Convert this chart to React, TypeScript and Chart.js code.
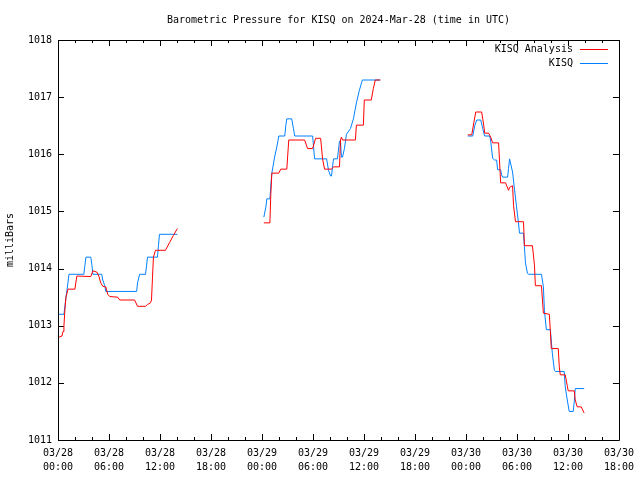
import React, { useEffect, useRef } from 'react';
import { Chart, registerables } from 'chart.js';

Chart.register(...registerables);

const TITLE = 'Barometric Pressure for KISQ on 2024-Mar-28 (time in UTC)';
const Y_LABEL = 'milliBars';
const SERIES_NAMES = ['KISQ Analysis', 'KISQ'];
const SERIES_COLORS = ['#ff0000', '#0080ff'];

// x tick labels (hours since 03/28 00:00 UTC, every 6 h)
const X_TICK_DATES = ['03/28', '03/28', '03/28', '03/28', '03/29', '03/29', '03/29', '03/29', '03/30', '03/30', '03/30', '03/30'];
const X_TICK_TIMES = ['00:00', '06:00', '12:00', '18:00', '00:00', '06:00', '12:00', '18:00', '00:00', '06:00', '12:00', '18:00'];
const Y_TICKS = [1011, 1012, 1013, 1014, 1015, 1016, 1017, 1018];

// KISQ Analysis (red), three segments: hours since 03/28 00:00, millibars
const analysisT1 = [0.12, 0.47, 0.59, 0.70, 0.82, 0.94, 1.17, 1.99, 2.22, 3.86, 4.10, 4.56, 4.80, 5.03, 5.27, 5.62, 5.85, 6.09, 7.02, 7.26, 9.01, 9.36, 10.30, 10.53, 10.88, 11.0, 11.12, 11.23, 11.47, 12.64, 13.11, 13.58, 14.04];
const analysisP1 = [1012.8, 1012.82, 1012.9, 1013.0, 1013.3, 1013.5, 1013.64, 1013.64, 1013.87, 1013.86, 1013.96, 1013.94, 1013.87, 1013.75, 1013.69, 1013.68, 1013.55, 1013.51, 1013.5, 1013.45, 1013.45, 1013.34, 1013.34, 1013.37, 1013.4, 1013.45, 1013.85, 1014.2, 1014.32, 1014.32, 1014.45, 1014.58, 1014.7];
const analysisT2 = [24.22, 24.93, 25.04, 25.16, 25.98, 26.21, 26.92, 27.15, 29.02, 29.37, 29.96, 30.31, 30.90, 31.13, 31.36, 32.18, 32.42, 33.12, 33.24, 33.35, 33.47, 34.99, 35.11, 35.93, 36.04, 36.86, 37.10, 37.33, 37.92];
const analysisP2 = [1014.8, 1014.8, 1015.3, 1015.67, 1015.67, 1015.74, 1015.74, 1016.25, 1016.25, 1016.1, 1016.1, 1016.28, 1016.28, 1015.92, 1015.74, 1015.74, 1015.78, 1015.78, 1016.25, 1016.3, 1016.25, 1016.25, 1016.51, 1016.51, 1016.95, 1016.95, 1017.15, 1017.3, 1017.3];
const analysisT3 = [48.21, 48.68, 48.92, 49.15, 49.85, 50.09, 50.20, 50.67, 50.91, 51.14, 51.84, 52.08, 52.66, 53.01, 53.13, 53.48, 53.60, 53.83, 54.77, 54.88, 55.82, 56.06, 56.17, 56.88, 57.11, 57.81, 57.93, 58.04, 58.86, 58.98, 59.10, 59.68, 59.92, 60.03, 60.74, 60.86, 61.09, 61.56, 61.91];
const analysisP3 = [1016.34, 1016.34, 1016.55, 1016.74, 1016.74, 1016.51, 1016.37, 1016.37, 1016.3, 1016.2, 1016.2, 1015.5, 1015.5, 1015.37, 1015.42, 1015.45, 1015.1, 1014.82, 1014.82, 1014.4, 1014.4, 1014.06, 1013.7, 1013.7, 1013.22, 1013.2, 1012.9, 1012.6, 1012.6, 1012.28, 1012.14, 1012.14, 1011.95, 1011.86, 1011.86, 1011.7, 1011.58, 1011.58, 1011.47];

// KISQ observations (blue)
const kisqT1 = [0.12, 0.70, 0.82, 0.94, 1.05, 1.17, 1.29, 3.04, 3.16, 3.28, 3.86, 4.0, 4.10, 5.15, 5.27, 5.50, 5.62, 9.25, 9.36, 9.60, 10.30, 10.42, 10.53, 11.70, 11.82, 11.94, 14.04];
const kisqP1 = [1013.2, 1013.2, 1013.35, 1013.5, 1013.62, 1013.75, 1013.9, 1013.9, 1014.05, 1014.2, 1014.2, 1014.05, 1013.9, 1013.9, 1013.8, 1013.7, 1013.6, 1013.6, 1013.75, 1013.9, 1013.9, 1014.05, 1014.2, 1014.2, 1014.4, 1014.6, 1014.6];
const kisqT2 = [24.22, 24.46, 24.57, 24.93, 25.04, 25.16, 25.51, 25.75, 25.98, 26.68, 26.80, 26.92, 27.50, 27.70, 27.85, 29.96, 30.19, 31.60, 31.83, 32.07, 32.18, 32.30, 32.42, 32.88, 33.12, 33.24, 33.35, 33.47, 33.70, 33.94, 34.41, 34.76, 35.11, 35.46, 35.81, 37.92];
const kisqP2 = [1014.9, 1015.08, 1015.22, 1015.22, 1015.45, 1015.67, 1015.97, 1016.13, 1016.32, 1016.32, 1016.5, 1016.62, 1016.62, 1016.45, 1016.32, 1016.32, 1015.92, 1015.92, 1015.72, 1015.62, 1015.62, 1015.78, 1015.92, 1015.92, 1016.23, 1016.23, 1015.95, 1015.95, 1016.1, 1016.35, 1016.45, 1016.62, 1016.9, 1017.12, 1017.3, 1017.3];
const kisqT3 = [48.21, 48.80, 49.03, 49.27, 49.74, 49.97, 50.20, 50.79, 50.91, 51.14, 51.37, 51.61, 51.72, 52.08, 52.19, 52.31, 52.90, 53.01, 53.13, 53.48, 53.71, 53.95, 54.18, 54.30, 54.77, 54.88, 55.0, 55.23, 55.35, 56.88, 57.11, 57.23, 57.46, 57.93, 58.16, 58.40, 58.51, 59.56, 59.68, 59.92, 60.15, 60.62, 60.74, 60.86, 61.91];
const kisqP3 = [1016.32, 1016.32, 1016.5, 1016.6, 1016.6, 1016.45, 1016.32, 1016.32, 1016.23, 1015.93, 1015.9, 1015.9, 1015.73, 1015.73, 1015.64, 1015.6, 1015.6, 1015.75, 1015.92, 1015.69, 1015.39, 1015.08, 1014.8, 1014.62, 1014.62, 1014.38, 1014.1, 1013.92, 1013.9, 1013.9, 1013.68, 1013.27, 1012.93, 1012.93, 1012.52, 1012.22, 1012.2, 1012.2, 1011.93, 1011.7, 1011.5, 1011.5, 1011.67, 1011.9, 1011.9];

const FONT = "'DejaVu Sans Mono', monospace";

function buildSeries(segments: [number[], number[]][]) {
  const out: { x: number; y: number | null }[] = [];
  segments.forEach(([t, p], si) => {
    if (si > 0) out.push({ x: t[0] - 0.01, y: null });
    t.forEach((tv, i) => out.push({ x: tv, y: p[i] }));
  });
  return out;
}

const framePlugin = {
  id: 'gnuFrame',
  beforeDatasetsDraw(chart: any) {
    const { ctx, chartArea, scales } = chart;
    const { left, right, top, bottom } = chartArea;
    const xs = scales.x;
    const ys = scales.y;
    ctx.save();
    // title centred over the plot area
    ctx.font = `10px ${FONT}`;
    ctx.fillStyle = '#000';
    ctx.textAlign = 'center';
    ctx.textBaseline = 'middle';
    ctx.fillText(TITLE, (left + right) / 2, 20);

    ctx.strokeStyle = '#000';
    ctx.lineWidth = 1;
    ctx.beginPath();
    ctx.rect(Math.round(left) + 0.5, Math.round(top) + 0.5, Math.round(right - left), Math.round(bottom - top));
    ctx.stroke();
    ctx.beginPath();
    for (let h = 0; h <= 66; h += 2) {
      const px = Math.round(xs.getPixelForValue(h)) + 0.5;
      const len = h % 6 === 0 ? 6 : 3;
      ctx.moveTo(px, bottom);
      ctx.lineTo(px, bottom - len);
      ctx.moveTo(px, top);
      ctx.lineTo(px, top + len);
    }
    Y_TICKS.forEach((v) => {
      const py = Math.round(ys.getPixelForValue(v)) + 0.5;
      ctx.moveTo(left, py);
      ctx.lineTo(left + 6, py);
      ctx.moveTo(right, py);
      ctx.lineTo(right - 6, py);
    });
    ctx.stroke();
    ctx.restore();
  },
  afterDatasetsDraw(chart: any) {
    const { ctx, chartArea } = chart;
    const { right, top } = chartArea;
    ctx.save();
    ctx.font = `10px ${FONT}`;
    ctx.fillStyle = '#000';
    ctx.textAlign = 'right';
    ctx.textBaseline = 'middle';
    SERIES_NAMES.forEach((name, i) => {
      const y = top + 9 + i * 14;
      ctx.fillText(name, right - 46, y);
      ctx.strokeStyle = SERIES_COLORS[i];
      ctx.lineWidth = 1;
      ctx.beginPath();
      ctx.moveTo(right - 39, Math.round(y) + 0.5);
      ctx.lineTo(right - 11, Math.round(y) + 0.5);
      ctx.stroke();
    });
    ctx.restore();
  },
};

export default function App() {
  const ref = useRef<HTMLCanvasElement | null>(null);
  useEffect(() => {
    if (!ref.current) return;
    const chart = new Chart(ref.current, {
      type: 'line',
      data: {
        datasets: [
          {
            label: SERIES_NAMES[0],
            data: buildSeries([[analysisT1, analysisP1], [analysisT2, analysisP2], [analysisT3, analysisP3]]) as any,
            borderColor: SERIES_COLORS[0],
            backgroundColor: SERIES_COLORS[0],
            borderWidth: 1,
            pointRadius: 0,
            tension: 0,
            spanGaps: false,
          },
          {
            label: SERIES_NAMES[1],
            data: buildSeries([[kisqT1, kisqP1], [kisqT2, kisqP2], [kisqT3, kisqP3]]) as any,
            borderColor: SERIES_COLORS[1],
            backgroundColor: SERIES_COLORS[1],
            borderWidth: 1,
            pointRadius: 0,
            tension: 0,
            spanGaps: false,
          },
        ],
      },
      options: {
        responsive: false,
        animation: false,
        layout: { padding: { left: 0, right: 18, top: 40, bottom: 0 } },
        plugins: {
          legend: { display: false },
          tooltip: { enabled: false },
          title: { display: false },
        },
        scales: {
          x: {
            type: 'linear',
            min: 0,
            max: 66,
            grid: { display: false, drawTicks: false },
            border: { display: false },
            afterFit: (s: any) => { s.height = 40; },
            ticks: {
              stepSize: 6,
              autoSkip: false,
              maxRotation: 0,
              padding: 6,
              color: '#000',
              font: { family: FONT, size: 10, lineHeight: 1.4 },
              callback: (v: any) => {
                const i = Math.round(Number(v) / 6);
                return [X_TICK_DATES[i], X_TICK_TIMES[i]];
              },
            },
          },
          y: {
            type: 'linear',
            min: 1011,
            max: 1018,
            grid: { display: false, drawTicks: false },
            border: { display: false },
            afterFit: (s: any) => { s.width = 58; },
            title: {
              display: true,
              text: Y_LABEL,
              color: '#000',
              font: { family: FONT, size: 10 },
              padding: { top: 4, bottom: 0 },
            },
            ticks: {
              stepSize: 1,
              padding: 6,
              color: '#000',
              font: { family: FONT, size: 10 },
              callback: (v: any) => String(v),
            },
          },
        },
      },
      plugins: [framePlugin],
    });
    return () => chart.destroy();
  }, []);
  return (
    <div style={{ position: 'fixed', left: 0, top: 0, width: 640, height: 480, background: '#fff' }}>
      <canvas ref={ref} width={640} height={480} />
    </div>
  );
}
